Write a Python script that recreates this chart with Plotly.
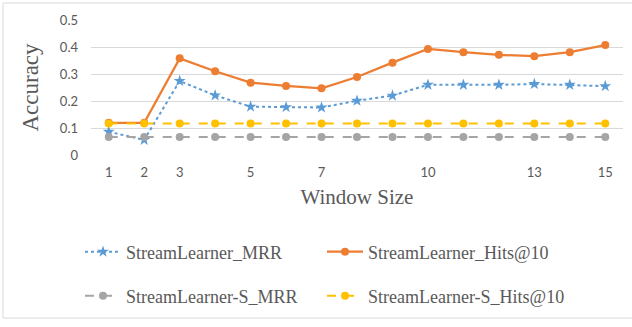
import plotly.graph_objects as go

window_sizes = list(range(1, 16))
tick_vals = [1, 2, 3, 5, 7, 10, 13, 15]
tick_text = ["1", "2", "3", "5", "7", "10", "13", "15"]

sl_mrr = [0.086, 0.056, 0.274, 0.221, 0.179, 0.177, 0.176, 0.201, 0.220, 0.260, 0.260, 0.260, 0.263, 0.260, 0.255]
sl_hits = [0.119, 0.119, 0.358, 0.310, 0.268, 0.256, 0.247, 0.289, 0.342, 0.393, 0.381, 0.371, 0.366, 0.381, 0.407]
sls_mrr = [0.067] * 15
sls_hits = [0.117] * 15

W, H = 632, 327
L, R, T, B = 91, 9, 20, 172
PW, PH = W - L - R, H - T - B

def px_x(p):
    return (p - L) / PW

def px_y(p):
    return 1 - (p - T) / PH

serif = "Liberation Serif"
sans = "Lato"
gray_txt = "#595959"

fig = go.Figure()
fig.add_trace(go.Scatter(x=window_sizes, y=sl_mrr, name="StreamLearner_MRR", mode="lines+markers",
                         line=dict(color="#5B9BD5", width=2, dash="dot"),
                         marker=dict(symbol="star", size=9, color="#5B9BD5"), legend="legend"))
fig.add_trace(go.Scatter(x=window_sizes, y=sl_hits, name="StreamLearner_Hits@10", mode="lines+markers",
                         line=dict(color="#ED7D31", width=2.25),
                         marker=dict(symbol="circle", size=8, color="#ED7D31"), legend="legend2"))
fig.add_trace(go.Scatter(x=window_sizes, y=sls_mrr, name="StreamLearner-S_MRR", mode="lines+markers",
                         line=dict(color="#A5A5A5", width=2, dash="dash"),
                         marker=dict(symbol="circle", size=8, color="#A5A5A5"), legend="legend3"))
fig.add_trace(go.Scatter(x=window_sizes, y=sls_hits, name="StreamLearner-S_Hits@10", mode="lines+markers",
                         line=dict(color="#FFC000", width=2, dash="dash"),
                         marker=dict(symbol="circle", size=8, color="#FFC000"), legend="legend4"))

leg_common = dict(font=dict(family=serif, size=18, color=gray_txt), bgcolor="rgba(0,0,0,0)",
                  xanchor="left", yanchor="middle", itemwidth=36)
col1, col2 = px_x(80), px_x(322)
row1, row2 = px_y(252), px_y(296)

fig.update_layout(
    width=W, height=H,
    margin=dict(l=L, r=R, t=T, b=B, autoexpand=False),
    paper_bgcolor="white", plot_bgcolor="white",
    showlegend=True,
    legend=dict(x=col1, y=row1, **leg_common),
    legend2=dict(x=col2, y=row1, **leg_common),
    legend3=dict(x=col1, y=row2, **leg_common),
    legend4=dict(x=col2, y=row2, **leg_common),
    xaxis=dict(range=[0.5, 15.5], tickvals=tick_vals, ticktext=tick_text, showgrid=False, zeroline=False,
               showline=False, tickfont=dict(family=sans, size=13, color=gray_txt), ticks="",
               ticklabelstandoff=8,
               title=dict(text="Window Size", font=dict(family=serif, size=21, color=gray_txt), standoff=10)),
    yaxis=dict(range=[0, 0.5], tickvals=[0, 0.1, 0.2, 0.3, 0.4, 0.5],
               ticktext=["0", "0.1", "0.2", "0.3", "0.4", "0.5"], showgrid=True, gridcolor="#D9D9D9",
               gridwidth=1, zeroline=False, showline=False, ticks="",
               tickfont=dict(family=sans, size=13, color=gray_txt), ticklabelstandoff=12,
               title=dict(text="Accuracy", font=dict(family=serif, size=23, color=gray_txt), standoff=14)),
    shapes=[dict(type="rect", xref="paper", yref="paper", x0=px_x(3), x1=px_x(640), y0=px_y(318), y1=px_y(3),
                 line=dict(color="#D9D9D9", width=1), fillcolor="rgba(0,0,0,0)", layer="below")],
)

fig.write_html("out.html", config={"displayModeBar": False},
               post_script="document.body.style.margin='0px';")
